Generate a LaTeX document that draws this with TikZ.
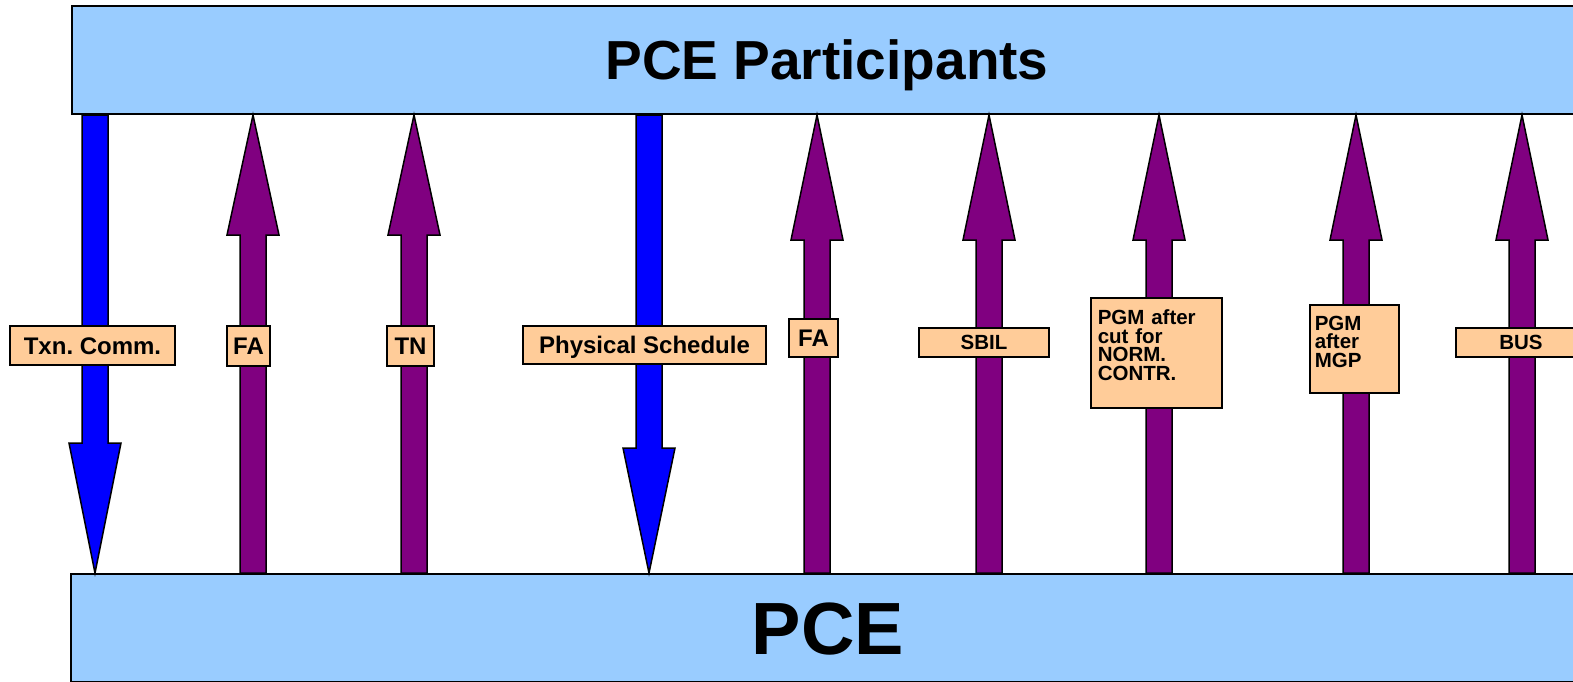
\documentclass[tikz,border=0pt]{standalone}
\usepackage{fontspec}
\setmainfont{Liberation Sans}
\definecolor{barblue}{HTML}{99CCFF}
\definecolor{flowpurple}{HTML}{800080}
\definecolor{flowblue}{HTML}{0000FF}
\definecolor{tagorange}{HTML}{FFCC99}

\begin{document}
\begin{tikzpicture}[x=1pt,y=-1pt]
        \tikzstyle{bar}=[draw,fill=barblue,line width=2pt,inner sep=0pt,text depth=0pt]
        \tikzstyle{up flow}=[draw,fill=flowpurple,line width=1.5pt,line join=miter]
        \tikzstyle{down flow}=[draw,fill=flowblue,line width=1.5pt,line join=miter]
        \tikzstyle{tag}=[draw,fill=tagorange,line width=1.5pt,inner sep=0pt,font=\bfseries\fontsize{24}{24}\selectfont,text height=17pt,text depth=0pt]
        \tikzstyle{small tag}=[tag,font=\bfseries\fontsize{20.5}{18.5}\selectfont,text height=14.7pt]
        \tikzstyle{note}=[draw,fill=tagorange,line width=1.5pt,anchor=north west,align=left,font=\bfseries\fontsize{20.5}{18.5}\selectfont]
        \useasboundingbox (0,0) rectangle (1573,681);
        % the two bars
        \node[bar,minimum width=1510,minimum height=108,font=\bfseries\fontsize{55}{55}\selectfont,text height=39pt] (part) at (827,60) {PCE Participants};
        \node[bar,minimum width=1514,minimum height=108,font=\bfseries\fontsize{74}{74}\selectfont,text height=53pt] (pce) at (828,628) {PCE};
        % flows
        \foreach \x/\hb in {253/235,414/235,817/240,989/240,1159/240,1356/240,1522/240}
            \draw[up flow] (\x-13,0 |- pce.north) -- (\x-13,\hb) -- (\x-26,\hb) -- (\x,0 |- part.south) -- (\x+26,\hb) -- (\x+13,\hb) -- (\x+13,0 |- pce.north) -- cycle;
        \foreach \x/\hb in {95/443,649/448}
            \draw[down flow] (\x-13,0 |- part.south) -- (\x-13,\hb) -- (\x-26,\hb) -- (\x,0 |- pce.north) -- (\x+26,\hb) -- (\x+13,\hb) -- (\x+13,0 |- part.south) -- cycle;
        % labels
        \node[tag,minimum width=165,minimum height=39] (txn) at (92.5,345.5) {Txn.\ Comm.};
        \node[tag,minimum width=43,minimum height=40] (fa1) at (248.5,346) {FA};
        \node[tag,minimum width=47,minimum height=40] (tn) at (410.5,346) {TN};
        \node[tag,minimum width=243,minimum height=38] (phys) at (644.5,345) {Physical Schedule};
        \node[tag,minimum width=49,minimum height=38] (fa2) at (813.5,338) {FA};
        \node[small tag,minimum width=130,minimum height=29] (sbil) at (984,342.5) {SBIL};
        \node[note,text width=117,inner xsep=7,inner ysep=12,text depth=71.5pt] (pgmcut) at (1090,297) {PGM after\\cut for\\NORM.\\CONTR.};
        \node[note,text width=79,inner xsep=5,inner ysep=11,text depth=52pt] (pgmmgp) at (1309,304) {PGM\\after\\MGP};
        \node[small tag,minimum width=130,minimum height=29] (bus) at (1521,342.5) {BUS};
\end{tikzpicture}
\end{document}
